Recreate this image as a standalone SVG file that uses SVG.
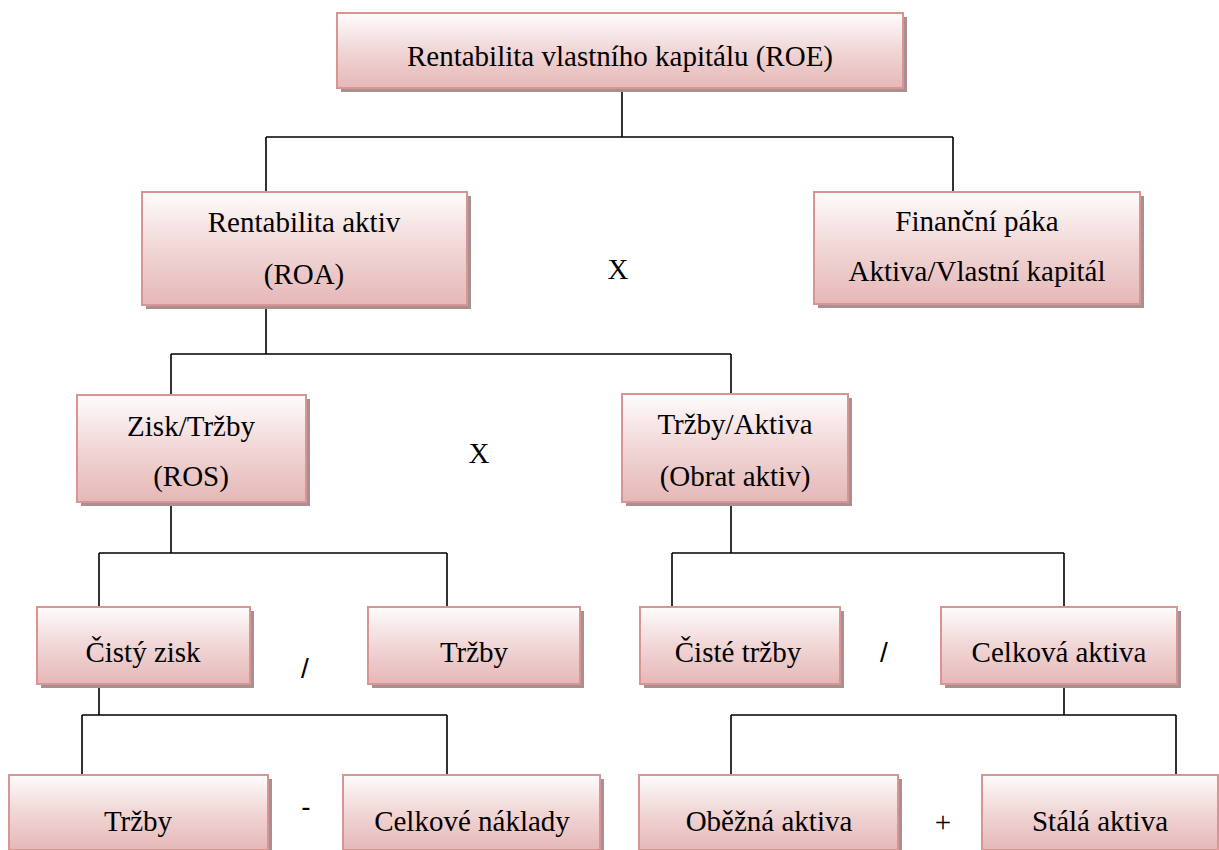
<svg xmlns="http://www.w3.org/2000/svg" width="1219" height="850" viewBox="0 0 1219 850">
<defs>
<linearGradient id="g" x1="0" y1="0" x2="0" y2="1">
<stop offset="0" stop-color="#fefcfc"/>
<stop offset="0.5" stop-color="#f1d6d6"/>
<stop offset="1" stop-color="#e5b8b7"/>
</linearGradient>
</defs>
<style>
.sh{fill:#a89090}
.bx{fill:url(#g);stroke:#d99594;stroke-width:2}
.t{font-size:29px;fill:#000;text-anchor:middle}
.op{font-size:28px;fill:#000;text-anchor:middle}
.c{fill:none;stroke:#000;stroke-width:1.6}
</style>
<rect width="1219" height="850" fill="#fff"/>
<g id="connectors">
<path class="c" d="M622,88V137M266,137H953M266,137V192M953,137V192"/>
<path class="c" d="M266,305V354M171,354H731M171,354V395M731,354V394"/>
<path class="c" d="M171,502V553M99,553H447M99,553V607M447,553V607"/>
<path class="c" d="M731,502V553M672,553H1064M672,553V607M1064,553V607"/>
<path class="c" d="M99,684V715M82,715H447M82,715V775M447,715V775"/>
<path class="c" d="M1064,684V715M731,715H1176M731,715V775M1176,715V775"/>
</g>
<g font-family="Times New Roman, Liberation Serif, DejaVu Serif, serif">
<g id="roe"><rect class="sh" x="341" y="17" width="566" height="75"/><rect class="bx" x="337" y="13" width="566" height="75"/><text class="t" x="620" y="66">Rentabilita vlastního kapitálu (ROE)</text></g>
<g id="roa"><rect class="sh" x="146" y="196" width="325" height="113"/><rect class="bx" x="142" y="192" width="325" height="113"/><text class="t" x="304" y="232">Rentabilita aktiv</text><text class="t" x="304" y="284">(ROA)</text></g>
<g id="financni-paka"><rect class="sh" x="818" y="196" width="326" height="112"/><rect class="bx" x="814" y="192" width="326" height="112"/><text class="t" x="977" y="231">Finanční páka</text><text class="t" x="977" y="281">Aktiva/Vlastní kapitál</text></g>
<g id="ros"><rect class="sh" x="81" y="399" width="229" height="107"/><rect class="bx" x="77" y="395" width="229" height="107"/><text class="t" x="191" y="436">Zisk/Tržby</text><text class="t" x="191" y="486">(ROS)</text></g>
<g id="obrat-aktiv"><rect class="sh" x="626" y="398" width="226" height="108"/><rect class="bx" x="622" y="394" width="226" height="108"/><text class="t" x="735" y="434">Tržby/Aktiva</text><text class="t" x="735" y="486">(Obrat aktiv)</text></g>
<g id="cisty-zisk"><rect class="sh" x="41" y="611" width="213" height="77"/><rect class="bx" x="37" y="607" width="213" height="77"/><text class="t" x="143" y="662">Čistý zisk</text></g>
<g id="trzby-1"><rect class="sh" x="372" y="611" width="212" height="77"/><rect class="bx" x="368" y="607" width="212" height="77"/><text class="t" x="474" y="662">Tržby</text></g>
<g id="ciste-trzby"><rect class="sh" x="644" y="611" width="200" height="77"/><rect class="bx" x="640" y="607" width="200" height="77"/><text class="t" x="738" y="662">Čisté tržby</text></g>
<g id="celkova-aktiva"><rect class="sh" x="945" y="611" width="236" height="77"/><rect class="bx" x="941" y="607" width="236" height="77"/><text class="t" x="1059" y="662">Celková aktiva</text></g>
<g id="trzby-2"><rect class="sh" x="13" y="779" width="259" height="75"/><rect class="bx" x="9" y="775" width="259" height="75"/><text class="t" x="138" y="831">Tržby</text></g>
<g id="celkove-naklady"><rect class="sh" x="347" y="779" width="257" height="75"/><rect class="bx" x="343" y="775" width="257" height="75"/><text class="t" x="472" y="831">Celkové náklady</text></g>
<g id="obezna-aktiva"><rect class="sh" x="643" y="779" width="259" height="75"/><rect class="bx" x="639" y="775" width="259" height="75"/><text class="t" x="769" y="831">Oběžná aktiva</text></g>
<g id="stala-aktiva"><rect class="sh" x="986" y="779" width="236" height="75"/><rect class="bx" x="982" y="775" width="236" height="75"/><text class="t" x="1100" y="831">Stálá aktiva</text></g>
<g id="operators">
<text class="t" x="618" y="279">X</text>
<text class="t" x="479" y="463">X</text>
<text class="op" x="305" y="678" font-family="Liberation Sans, Arial, sans-serif">/</text>
<text class="op" x="884" y="662" font-family="Liberation Sans, Arial, sans-serif">/</text>
<text class="op" x="306" y="816" font-family="Liberation Sans, Arial, sans-serif">-</text>
<text class="t" x="943" y="832">+</text>
</g>
</g>
</svg>
